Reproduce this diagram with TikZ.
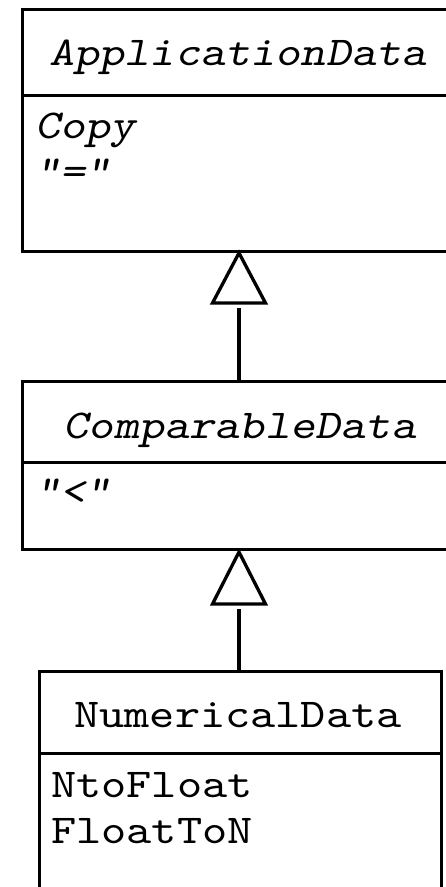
\documentclass[tikz,border=0pt]{standalone}
\usepackage{fontspec}
\setmonofont{lmmono10-regular.otf}[FakeStretch=1.17, ItalicFont=lmmonoslant10-regular.otf]
\begin{document}
\begin{tikzpicture}[x=1pt,y=-1pt,
  compart/.style={draw, rectangle, anchor=north west, inner sep=0pt, line width=3.3pt, minimum width=#1},
  ttl/.style={font=\fontsize{41}{46}\selectfont\ttfamily, anchor=base, inner sep=0pt},
  itl/.style={font=\fontsize{41}{46}\selectfont\ttfamily\itshape, anchor=base, inner sep=0pt},
  mbr/.style={font=\fontsize{41}{46}\selectfont\ttfamily, anchor=base west, inner sep=0pt},
  imbr/.style={font=\fontsize{41}{46}\selectfont\ttfamily\itshape, anchor=base west, inner sep=0pt},
  gen/.style={draw, line width=3.3pt, line join=miter},
  link/.style={draw, line width=3.3pt}]
\useasboundingbox (0,0) rectangle (445,887);
% class ApplicationData
\node[compart=520pt, minimum height=86pt] (a1t) at (21,8) {};
\node[compart=520pt, minimum height=156pt] (a1b) at (21,94) {};
\node[itl] (a1n) at (238,65) {ApplicationData};
\node[imbr] (a1m1) at (35,138) {Copy};
\node[imbr] (a1m2) at (35,184) {“=”};
% class ComparableData
\node[compart=520pt, minimum height=81pt] (a2t) at (21,380) {};
\node[compart=520pt, minimum height=87pt] (a2b) at (21,461) {};
\node[itl] (a2n) at (240,438) {ComparableData};
\node[imbr] (a2m1) at (35,504) {“<”};
% class NumericalData
\node[compart=402pt, minimum height=82pt] (a3t) at (38,670) {};
\node[compart=402pt, minimum height=250pt] (a3b) at (38,752) {};
\node[ttl] (a3n) at (238,727) {NumericalData};
\node[mbr] (a3m1) at (51,797) {NtoFloat};
\node[mbr] (a3m2) at (51,843) {FloatToN};
% generalization 1
\coordinate (tip1) at (239,253);
\coordinate (bl1) at (212.5,303);
\coordinate (br1) at (265.5,303);
\coordinate (s1) at (239,308);
\path[gen] (tip1) -- (br1) -- (bl1) -- cycle;
\path[link] (s1) -- (s1 |- a2t.north);
% generalization 2
\coordinate (tip2) at (239,552);
\coordinate (bl2) at (212.5,604);
\coordinate (br2) at (265.5,604);
\coordinate (s2) at (239,609);
\path[gen] (tip2) -- (br2) -- (bl2) -- cycle;
\path[link] (s2) -- (s2 |- a3t.north);
\end{tikzpicture}
\end{document}
